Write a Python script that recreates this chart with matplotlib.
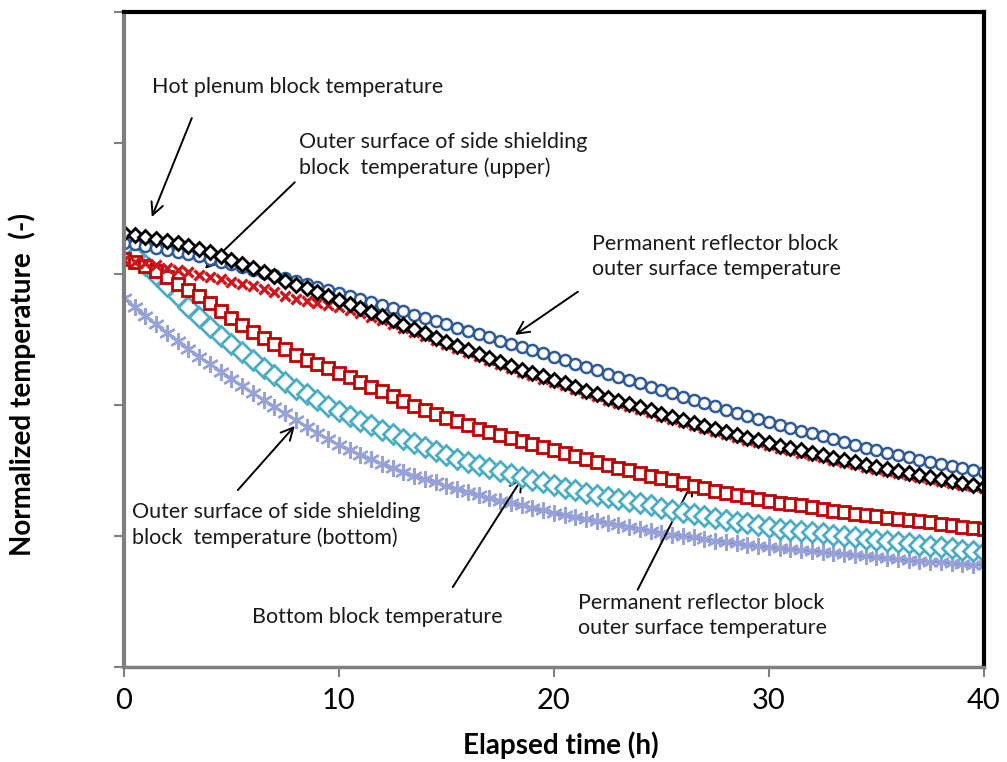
import numpy as np
import matplotlib
matplotlib.use("Agg")
import matplotlib.pyplot as plt

plt.rcParams['font.family'] = ['Lato', 'DejaVu Sans']

# Elapsed time (h), every 0.5 h
time_h = np.arange(0, 40.5, 0.5)

# Hot plenum block temperature (black diamonds)
hot_plenum = [
    0.663, 0.660, 0.656, 0.653, 0.650, 0.647, 0.643, 0.638, 0.634, 0.627,
    0.621, 0.615, 0.609, 0.603, 0.597, 0.590, 0.583, 0.578, 0.573, 0.566,
    0.560, 0.554, 0.548, 0.542, 0.536, 0.529, 0.522, 0.516, 0.510, 0.503,
    0.496, 0.490, 0.484, 0.478, 0.472, 0.466, 0.460, 0.454, 0.449, 0.444,
    0.438, 0.433, 0.427, 0.422, 0.417, 0.411, 0.406, 0.402, 0.397, 0.392,
    0.386, 0.382, 0.377, 0.373, 0.368, 0.363, 0.359, 0.354, 0.350, 0.346,
    0.342, 0.338, 0.334, 0.331, 0.327, 0.323, 0.319, 0.316, 0.313, 0.309,
    0.305, 0.302, 0.299, 0.296, 0.293, 0.290, 0.287, 0.284, 0.281, 0.278,
    0.275]

# Permanent reflector block outer surface temperature, upper (blue circles)
reflector_upper = [
    0.647, 0.645, 0.643, 0.640, 0.637, 0.634, 0.631, 0.627, 0.623, 0.619,
    0.615, 0.611, 0.606, 0.602, 0.598, 0.594, 0.589, 0.585, 0.580, 0.576,
    0.571, 0.566, 0.562, 0.557, 0.553, 0.548, 0.544, 0.538, 0.533, 0.528,
    0.524, 0.518, 0.513, 0.508, 0.504, 0.498, 0.493, 0.489, 0.484, 0.479,
    0.473, 0.468, 0.463, 0.458, 0.453, 0.448, 0.443, 0.438, 0.434, 0.428,
    0.423, 0.418, 0.412, 0.408, 0.403, 0.398, 0.392, 0.388, 0.383, 0.379,
    0.374, 0.369, 0.365, 0.361, 0.357, 0.353, 0.348, 0.344, 0.339, 0.335,
    0.331, 0.327, 0.324, 0.320, 0.316, 0.313, 0.310, 0.307, 0.304, 0.301,
    0.298]

# Outer surface of side shielding block temperature, upper (red x)
shield_upper = [
    0.621, 0.619, 0.617, 0.613, 0.609, 0.606, 0.603, 0.599, 0.595, 0.592,
    0.588, 0.585, 0.582, 0.577, 0.573, 0.567, 0.562, 0.559, 0.556, 0.553,
    0.550, 0.545, 0.540, 0.535, 0.530, 0.524, 0.518, 0.511, 0.505, 0.499,
    0.493, 0.487, 0.481, 0.475, 0.469, 0.463, 0.456, 0.451, 0.446, 0.440,
    0.435, 0.430, 0.424, 0.419, 0.414, 0.408, 0.403, 0.398, 0.394, 0.389,
    0.383, 0.379, 0.374, 0.369, 0.365, 0.360, 0.356, 0.351, 0.347, 0.343,
    0.339, 0.335, 0.331, 0.327, 0.324, 0.320, 0.316, 0.313, 0.310, 0.306,
    0.302, 0.299, 0.296, 0.293, 0.290, 0.287, 0.284, 0.281, 0.278, 0.276,
    0.273]

# Permanent reflector block outer surface temperature, lower (red squares)
reflector_lower = [
    0.623, 0.618, 0.612, 0.604, 0.595, 0.585, 0.576, 0.566, 0.556, 0.544,
    0.533, 0.522, 0.511, 0.502, 0.493, 0.485, 0.476, 0.469, 0.463, 0.456,
    0.449, 0.442, 0.435, 0.428, 0.421, 0.414, 0.406, 0.399, 0.392, 0.386,
    0.380, 0.375, 0.369, 0.364, 0.359, 0.354, 0.350, 0.345, 0.340, 0.336,
    0.331, 0.327, 0.322, 0.318, 0.313, 0.308, 0.304, 0.300, 0.296, 0.292,
    0.289, 0.285, 0.281, 0.277, 0.273, 0.269, 0.266, 0.263, 0.260, 0.256,
    0.253, 0.251, 0.249, 0.247, 0.244, 0.241, 0.238, 0.236, 0.234, 0.232,
    0.231, 0.228, 0.226, 0.224, 0.223, 0.221, 0.218, 0.216, 0.214, 0.212,
    0.211]

# Bottom block temperature (cyan diamonds)
bottom_block = [
    0.643, 0.628, 0.614, 0.598, 0.582, 0.566, 0.550, 0.534, 0.519, 0.506,
    0.493, 0.481, 0.469, 0.457, 0.446, 0.435, 0.424, 0.416, 0.408, 0.399,
    0.391, 0.383, 0.376, 0.369, 0.362, 0.355, 0.348, 0.342, 0.336, 0.330,
    0.324, 0.318, 0.313, 0.308, 0.304, 0.299, 0.295, 0.290, 0.285, 0.282,
    0.278, 0.274, 0.270, 0.266, 0.263, 0.260, 0.256, 0.253, 0.250, 0.247,
    0.243, 0.240, 0.237, 0.234, 0.231, 0.227, 0.224, 0.222, 0.220, 0.217,
    0.214, 0.211, 0.209, 0.208, 0.206, 0.204, 0.202, 0.200, 0.198, 0.196,
    0.194, 0.192, 0.191, 0.189, 0.186, 0.185, 0.183, 0.181, 0.179, 0.177,
    0.176]

# Outer surface of side shielding block temperature, bottom (purple asterisks)
shield_bottom = [
    0.563, 0.550, 0.536, 0.523, 0.510, 0.498, 0.485, 0.474, 0.463, 0.451,
    0.440, 0.429, 0.418, 0.408, 0.397, 0.387, 0.377, 0.367, 0.357, 0.348,
    0.339, 0.331, 0.324, 0.317, 0.310, 0.304, 0.298, 0.292, 0.287, 0.282,
    0.276, 0.272, 0.267, 0.263, 0.258, 0.254, 0.250, 0.247, 0.243, 0.239,
    0.235, 0.232, 0.229, 0.226, 0.223, 0.220, 0.217, 0.214, 0.211, 0.208,
    0.205, 0.202, 0.200, 0.198, 0.195, 0.193, 0.191, 0.189, 0.186, 0.185,
    0.183, 0.182, 0.180, 0.179, 0.177, 0.176, 0.174, 0.173, 0.171, 0.169,
    0.168, 0.166, 0.165, 0.163, 0.162, 0.161, 0.160, 0.159, 0.157, 0.156,
    0.156]

x_ticks = [0, 10, 20, 30, 40]
y_ticks = [0.0, 0.2, 0.4, 0.6, 0.8, 1.0]

fig = plt.figure(figsize=(10.07, 7.62), dpi=100)
ax = fig.add_axes([0.123, 0.1247, 0.854, 0.8596])

ax.plot(time_h, shield_bottom, linestyle='-', color='#8b86c4', lw=2.0,
        marker=(6, 2, 0), markersize=12, markeredgewidth=1.7,
        markeredgecolor='#97a3d8', zorder=3)
ax.plot(time_h, bottom_block, linestyle='none', marker='D', markersize=10.5,
        markerfacecolor='white', markeredgecolor='#4bacc6',
        markeredgewidth=2.0, zorder=4)
ax.plot(time_h, reflector_lower, linestyle='none', marker='s', markersize=8,
        markerfacecolor='white', markeredgecolor='#c00000',
        markeredgewidth=2.0, zorder=5)
ax.plot(time_h, shield_upper, linestyle='none', marker='x', markersize=7,
        markeredgecolor='#d0151c', markeredgewidth=2.4, zorder=6)
ax.plot(time_h, reflector_upper, linestyle='none', marker='o', markersize=8,
        markerfacecolor='white', markeredgecolor='#2f5b9a',
        markeredgewidth=1.8, zorder=7)
ax.plot(time_h, hot_plenum, linestyle='none', marker='D', markersize=7.5,
        markerfacecolor='white', markeredgecolor='black',
        markeredgewidth=2.0, zorder=8)

ax.set_xlim(0, 40)
ax.set_ylim(0, 1)
ax.set_xticks(x_ticks)
ax.set_yticks(y_ticks)
ax.set_yticklabels([])
ax.tick_params(axis='x', direction='out', length=7, width=1.5, colors='#808080',
               labelcolor='black', labelsize=21, pad=8)
ax.tick_params(axis='y', direction='out', length=7, width=1.5, colors='#808080')

ax.spines['left'].set_color('#7f7f7f')
ax.spines['left'].set_linewidth(3)
ax.spines['bottom'].set_color('#7f7f7f')
ax.spines['bottom'].set_linewidth(2.5)
ax.spines['top'].set_color('black')
ax.spines['top'].set_linewidth(3)
ax.spines['right'].set_color('black')
ax.spines['right'].set_linewidth(3)
for sp in ax.spines.values():
    sp.set_zorder(10)

fig.text(0.557, 0.0223, 'Elapsed time (h)', fontsize=20, fontweight='bold',
         ha='center', va='center')
fig.text(0.0218, 0.495, 'Normalized temperature  (-)', fontsize=20,
         fontweight='bold', ha='center', va='center', rotation=90)

arrow = dict(arrowstyle='->', color='black', lw=1.4, mutation_scale=22,
             shrinkA=0, shrinkB=0)
txt = dict(fontsize=15.5, color='#1a1a1a', ha='left', va='center',
           linespacing=1.3)

ax.annotate('', xy=(1.30, 0.687), xytext=(3.16, 0.838), arrowprops=arrow)
ax.text(1.30, 0.885, 'Hot plenum block temperature', **txt)

ax.annotate('', xy=(3.77, 0.608), xytext=(7.95, 0.740), arrowprops=arrow)
ax.text(8.14, 0.782, 'Outer surface of side shielding\nblock  temperature (upper)', **txt)

ax.annotate('', xy=(18.19, 0.507), xytext=(21.12, 0.573), arrowprops=arrow)
ax.text(21.77, 0.627, 'Permanent reflector block\nouter surface temperature', **txt)

ax.annotate('', xy=(7.95, 0.368), xytext=(5.30, 0.270), arrowprops=arrow)
ax.text(0.37, 0.217, 'Outer surface of side shielding\nblock  temperature (bottom)', **txt)

ax.annotate('', xy=(18.56, 0.290), xytext=(15.30, 0.122), arrowprops=arrow)
ax.text(5.95, 0.076, 'Bottom block temperature', **txt)

ax.annotate('', xy=(26.47, 0.284), xytext=(23.90, 0.118), arrowprops=arrow)
ax.text(21.12, 0.079, 'Permanent reflector block\nouter surface temperature', **txt)

fig.savefig('out.png', dpi=100)
